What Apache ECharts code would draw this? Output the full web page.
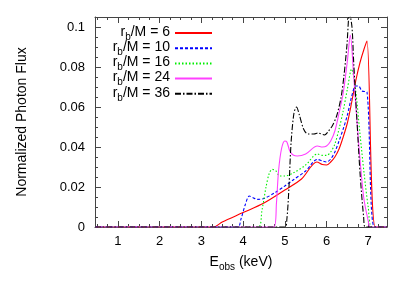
<!DOCTYPE html>
<html><head><meta charset="utf-8">
<script src="https://cdn.jsdelivr.net/npm/echarts@6/dist/echarts.min.js"></script>
<style>html,body{margin:0;padding:0;background:#fff}#c{width:409px;height:286px}</style>
</head><body><div id="c"></div>
<script>
// ---- data ----
const seriesNames = ['r_b/M = 6', 'r_b/M = 10', 'r_b/M = 16', 'r_b/M = 24', 'r_b/M = 36'];
const radii = ['6', '10', '16', '24', '36'];

const e6 = [0.45, 3.29, 3.5, 4.0, 4.5, 5.0, 5.4, 5.77, 5.9, 6.0, 6.1, 6.2, 6.3, 6.4, 6.5, 6.6, 6.7, 6.8, 6.9, 6.97, 7.17, 7.45];
const f6 = [0, 0, 0.0025, 0.0072, 0.012, 0.0185, 0.024, 0.0325, 0.0312, 0.031, 0.0325, 0.035, 0.039, 0.045, 0.052, 0.062, 0.073, 0.082, 0.089, 0.093, 0, 0];

const e10 = [0.45, 3.87, 3.95, 4.05, 4.15, 4.25, 4.35, 4.5, 4.75, 5.0, 5.2, 5.5, 5.78, 5.9, 6.0, 6.1, 6.2, 6.3, 6.4, 6.5, 6.6, 6.7, 6.77, 6.85, 6.97, 7.15, 7.45];
const f10 = [0, 0, 0.004, 0.011, 0.0155, 0.0145, 0.0138, 0.0142, 0.017, 0.0205, 0.0235, 0.028, 0.0338, 0.033, 0.0325, 0.034, 0.0375, 0.043, 0.049, 0.056, 0.065, 0.0705, 0.0705, 0.068, 0.0675, 0, 0];

const e16 = [0.45, 4.36, 4.45, 4.55, 4.63, 4.7, 4.78, 4.88, 5.0, 5.2, 5.5, 5.78, 5.9, 6.0, 6.1, 6.2, 6.3, 6.4, 6.5, 6.6, 6.7, 6.8, 6.9, 7.0, 7.09, 7.45];
const f16 = [0, 0, 0.008, 0.02, 0.027, 0.0288, 0.0282, 0.0255, 0.0255, 0.027, 0.031, 0.0365, 0.0358, 0.0358, 0.0375, 0.0415, 0.049, 0.058, 0.069, 0.079, 0.068, 0.047, 0.027, 0.01, 0, 0];

const e24 = [0.45, 4.74, 4.8, 4.85, 4.92, 5.0, 5.05, 5.12, 5.2, 5.3, 5.5, 5.78, 5.9, 6.0, 6.1, 6.2, 6.3, 6.4, 6.5, 6.57, 6.65, 6.77, 6.89, 7.0, 7.05, 7.45];
const f24 = [0, 0, 0.012, 0.028, 0.039, 0.043, 0.0425, 0.038, 0.036, 0.0355, 0.0365, 0.0405, 0.04, 0.0405, 0.043, 0.048, 0.057, 0.067, 0.083, 0.096, 0.076, 0.042, 0.015, 0.003, 0, 0];

const e36 = [0.45, 5.0, 5.05, 5.1, 5.15, 5.22, 5.28, 5.35, 5.45, 5.55, 5.7, 5.8, 5.95, 6.05, 6.15, 6.25, 6.35, 6.42, 6.49, 6.55, 6.61, 6.65, 6.73, 6.81, 6.89, 6.93, 7.45];
const f36 = [0, 0, 0.004, 0.02, 0.042, 0.057, 0.06, 0.056, 0.049, 0.0465, 0.0465, 0.047, 0.046, 0.048, 0.051, 0.056, 0.065, 0.076, 0.091, 0.107, 0.1, 0.083, 0.053, 0.025, 0.005, 0, 0];

const xMajor = [1, 2, 3, 4, 5, 6, 7];
const xMinor = [0.5, 0.75, 1.25, 1.5, 1.75, 2.25, 2.5, 2.75, 3.25, 3.5, 3.75, 4.25, 4.5, 4.75, 5.25, 5.5, 5.75, 6.25, 6.5, 6.75, 7.25];
const yMajor = [0, 0.02, 0.04, 0.06, 0.08, 0.1];
const yMinor = [0.005, 0.01, 0.015, 0.025, 0.03, 0.035, 0.045, 0.05, 0.055, 0.065, 0.07, 0.075, 0.085, 0.09, 0.095];

// ---- chart ----
const FONT = 'Liberation Sans';
const X_MIN = 0.45, X_MAX = 7.45, Y_MIN = 0, Y_MAX = 0.105;
const axisColor = '#444';

function zip(xs, ys) { return xs.map((x, i) => [x, ys[i]]); }
const dataSets = [zip(e6, f6), zip(e10, f10), zip(e16, f16), zip(e24, f24), zip(e36, f36)];
const colors = ['#ff0000', '#0000ff', '#00ee00', '#ff40ff', '#000000'];
const dashes = ['solid', [3, 2], [1.5, 2], 'solid', [6, 2, 1.5, 2]];

const richStyles = {
  t: { fontSize: 14, fontFamily: FONT, color: '#000', lineHeight: 16, verticalAlign: 'top' },
  s: { fontSize: 10, fontFamily: FONT, color: '#000', lineHeight: 10, padding: [7, 0, 0, 0], verticalAlign: 'top' }
};

function xAx(grid, pos, values, len, labels, extra) {
  return Object.assign({
    type: 'value', gridIndex: grid, position: pos, min: X_MIN, max: X_MAX,
    axisLine: { show: grid === 0, onZero: false, lineStyle: { color: axisColor, width: 1 } },
    axisTick: { inside: true, length: len, customValues: values, lineStyle: { color: axisColor } },
    axisLabel: labels ? { customValues: values, margin: 8, color: '#000', fontSize: 13, fontFamily: FONT } : { show: false },
    splitLine: { show: false }
  }, extra || {});
}
function yAx(grid, pos, values, len, labels, extra) {
  return Object.assign({
    type: 'value', gridIndex: grid, position: pos, min: Y_MIN, max: Y_MAX,
    axisLine: { show: grid === 0, onZero: false, lineStyle: { color: axisColor, width: 1 } },
    axisTick: { inside: true, length: len, customValues: values, lineStyle: { color: axisColor } },
    axisLabel: labels ? { customValues: values, margin: 10, color: '#000', fontSize: 13, fontFamily: FONT } : { show: false },
    splitLine: { show: false }
  }, extra || {});
}

const gridRect = { left: 95, top: 17, width: 292, height: 210 };

const option = {
  animation: false,
  backgroundColor: '#fff',
  grid: [Object.assign({}, gridRect), Object.assign({}, gridRect)],
  xAxis: [
    xAx(0, 'bottom', xMajor, 6, true, {
      name: '{t|E}{s|obs}{t| (keV)}', nameLocation: 'middle', nameGap: 28,
      nameTextStyle: { color: '#000', fontFamily: FONT, fontSize: 14, rich: richStyles }
    }),
    xAx(0, 'top', xMajor, 6, false),
    xAx(1, 'bottom', xMinor, 3, false),
    xAx(1, 'top', xMinor, 3, false)
  ],
  yAxis: [
    yAx(0, 'left', yMajor, 6, true, {
      name: 'Normalized Photon Flux', nameLocation: 'middle', nameGap: 66, nameRotate: 90,
      nameTextStyle: { color: '#000', fontFamily: FONT, fontSize: 14 }
    }),
    yAx(0, 'right', yMajor, 6, false),
    yAx(1, 'left', yMinor, 3, false),
    yAx(1, 'right', yMinor, 3, false)
  ],
  legend: {
    orient: 'vertical', align: 'right', right: 196, top: 25, padding: 0,
    itemWidth: 37, itemHeight: 14, itemGap: -1.8,
    itemStyle: { opacity: 0 },
    data: seriesNames,
    formatter: function (name) {
      const i = seriesNames.indexOf(name);
      return '{t|r}{s|b}{t|/M = ' + radii[i] + '}';
    },
    textStyle: { color: '#000', fontFamily: FONT, fontSize: 14, rich: richStyles }
  },
  series: seriesNames.map((n, i) => ({
    name: n, type: 'line', xAxisIndex: 0, yAxisIndex: 0,
    data: dataSets[i], symbol: 'none', smooth: 0.3, clip: true,
    lineStyle: { color: colors[i], width: 1.1, type: dashes[i] },
    itemStyle: { color: colors[i] },
    z: 2 + i
  }))
};

const chart = echarts.init(document.getElementById('c'), null, { renderer: 'canvas' });
chart.setOption(option);
</script></body></html>
